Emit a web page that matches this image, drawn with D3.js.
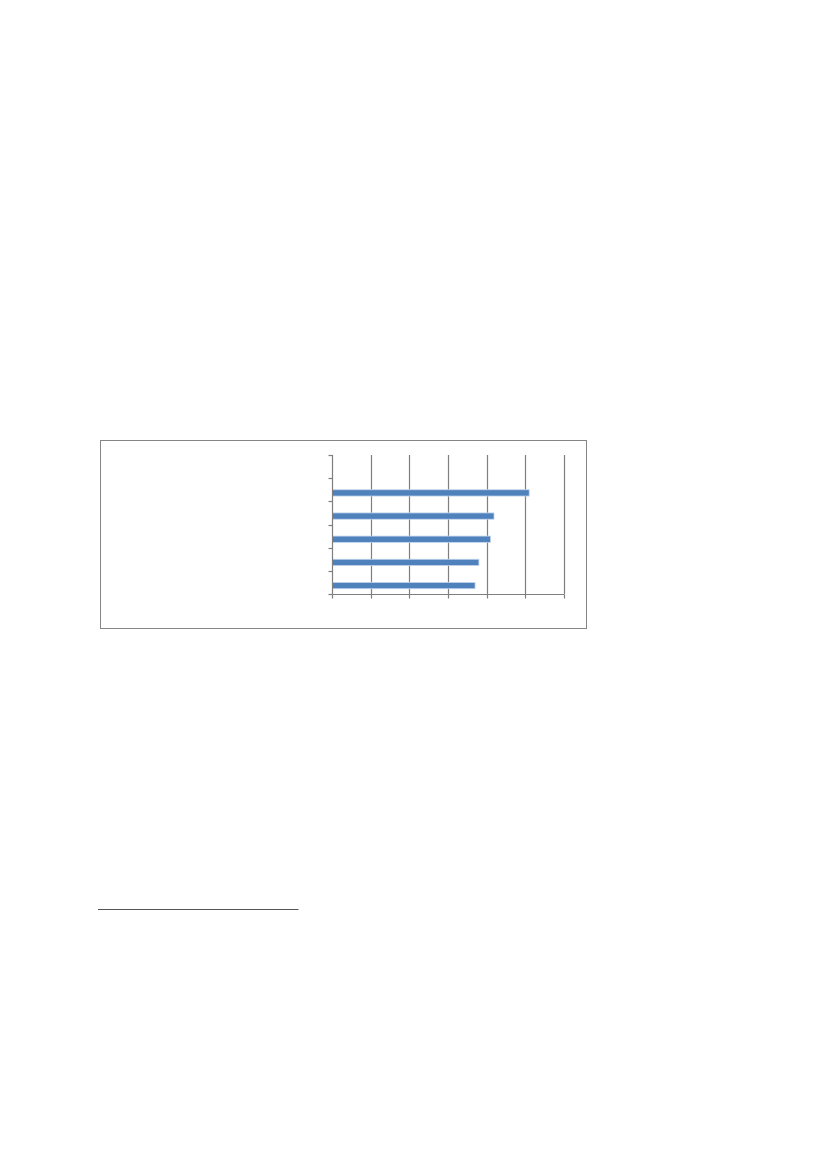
<!DOCTYPE html>
<html>
<head>
<meta charset="utf-8">
<script src="https://cdn.jsdelivr.net/npm/d3@7"></script>
<style>
  html, body { margin: 0; padding: 0; background: #fff; }
</style>
</head>
<body>
<div id="chart"></div>
<script>
// categories listed bottom to top, as the chart lays them out
const categories = ["c1", "c2", "c3", "c4", "c5", "c6"];
const seriesNames = ["Series 1", "Series 2"];
const series1 = [3.70, 3.80, 4.10, 4.19, 5.10, null];
const series2 = [null, null, null, null, null, null];
const xTicks = [0, 1, 2, 3, 4, 5, 6];

const W = 827, H = 1169;
const gridColor = "#7f7f7f";

const svg = d3.select("#chart")
  .append("svg")
  .attr("width", W)
  .attr("height", H);

// chart frame
svg.append("rect")
  .attr("x", 100.5)
  .attr("y", 440.5)
  .attr("width", 486)
  .attr("height", 188)
  .attr("fill", "white")
  .attr("stroke", "#868686")
  .attr("stroke-width", 1);

const x = d3.scaleLinear().domain([0, 6]).range([332, 564]);
const y = d3.scaleBand().domain(categories).range([594, 455]).padding(0);
const ySub = d3.scaleBand().domain(["Series 2", "Series 1"])
  .range([0, y.bandwidth()])
  .paddingInner(0)
  .paddingOuter(0.84);

const px = v => Math.round(x(v)) + 0.5;

// vertical gridlines
svg.append("g")
  .selectAll("line")
  .data(xTicks.slice(1))
  .join("line")
  .attr("x1", px)
  .attr("x2", px)
  .attr("y1", 455)
  .attr("y2", 594)
  .attr("stroke", gridColor)
  .attr("stroke-width", 1.2);

// bars
const rows = categories.map((c, i) => [
  { cat: c, s: seriesNames[0], v: series1[i] },
  { cat: c, s: seriesNames[1], v: series2[i] }
]).flat().filter(d => d.v != null);

svg.append("g")
  .selectAll("rect")
  .data(rows)
  .join("rect")
  .attr("x", px(0))
  .attr("y", d => y(d.cat) + ySub(d.s))
  .attr("width", d => x(d.v) - px(0))
  .attr("height", ySub.bandwidth())
  .attr("fill", "#4f81bd")
  .attr("stroke", "#c5d6ec")
  .attr("stroke-width", 0.8);

// x axis
const xAxis = svg.append("g").attr("transform", "translate(0,594.5)");
xAxis.append("line")
  .attr("x1", px(0)).attr("x2", px(6))
  .attr("y1", 0).attr("y2", 0)
  .attr("stroke", gridColor).attr("stroke-width", 1.2);
xAxis.selectAll("line.tick")
  .data(xTicks)
  .join("line")
  .attr("class", "tick")
  .attr("x1", px).attr("x2", px)
  .attr("y1", 0).attr("y2", 4)
  .attr("stroke", gridColor).attr("stroke-width", 1.2);

// y axis
const yTicks = categories.map(c => y(c)).concat([594]);
const yAxis = svg.append("g").attr("transform", `translate(${px(0)},0)`);
yAxis.append("line")
  .attr("x1", 0).attr("x2", 0)
  .attr("y1", 455).attr("y2", 594)
  .attr("stroke", gridColor).attr("stroke-width", 1.2);
yAxis.selectAll("line.tick")
  .data(yTicks)
  .join("line")
  .attr("class", "tick")
  .attr("x1", -4).attr("x2", 0)
  .attr("y1", d => Math.round(d) + 0.5)
  .attr("y2", d => Math.round(d) + 0.5)
  .attr("stroke", gridColor).attr("stroke-width", 1.2);

// footnote separator line
svg.append("line")
  .attr("x1", 98)
  .attr("x2", 298.5)
  .attr("y1", 909.5)
  .attr("y2", 909.5)
  .attr("stroke", "#555")
  .attr("stroke-width", 1);
</script>
</body>
</html>
